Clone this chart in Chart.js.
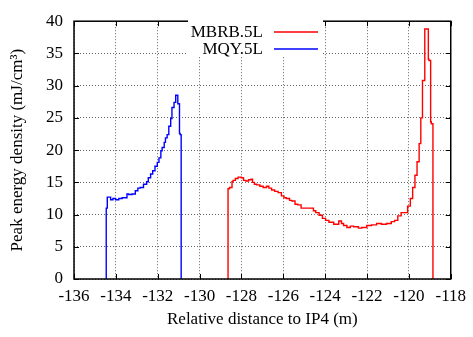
<!DOCTYPE html>
<html>
<head>
<meta charset="utf-8">
<script src="https://cdn.jsdelivr.net/npm/chart.js@4/dist/chart.umd.min.js"></script>
<style>
  html, body { margin: 0; padding: 0; background: #fff; }
  #wrap { width: 473px; height: 337px; }
</style>
</head>
<body>
<div id="wrap"><canvas id="myChart"></canvas></div>
<script>
// tick labels
var xTicks = [-136, -134, -132, -130, -128, -126, -124, -122, -120, -118];
var yTicks = [0, 5, 10, 15, 20, 25, 30, 35, 40];

// MBRB.5L (red)
var mbrbX = [-128.64, -128.64, -128.57, -128.45, -128.40, -128.29, -128.16, -128.01, -127.90, -127.79,
    -127.66, -127.54, -127.47, -127.38, -127.27, -127.12, -126.96, -126.80, -126.69, -126.56,
    -126.41, -126.25, -126.09, -125.97, -125.86, -125.70, -125.59, -125.44, -125.31, -125.15,
    -124.56, -124.45, -124.29, -124.13, -123.98, -123.82, -123.59, -123.35, -123.22, -123.12,
    -122.96, -122.80, -122.64, -122.41, -122.25, -122.01, -121.78, -121.54, -121.31, -121.07,
    -120.84, -120.68, -120.53, -120.37, -120.21, -120.06, -119.93, -119.82, -119.71, -119.61,
    -119.51, -119.43, -119.35, -119.24, -119.14, -119.07, -119.04, -118.96, -118.93, -118.85, -118.85];
var mbrbY = [0, 13.7, 14.0, 14.2, 15.1, 15.3, 15.6, 15.8, 15.7, 15.3,
    15.2, 15.4, 15.5, 15.0, 14.7, 14.6, 14.4, 14.2, 14.4, 14.1,
    13.8, 13.6, 13.4, 12.9, 12.6, 12.5, 12.2, 12.1, 11.6, 11.5,
    11.0, 10.6, 10.3, 9.9, 9.4, 9.1, 8.8, 8.5, 9.0, 8.6,
    8.3, 8.0, 8.2, 8.1, 7.9, 8.0, 8.3, 8.4, 8.6, 8.5,
    8.6, 8.9, 9.1, 9.8, 10.3, 10.3, 11.3, 12.5, 14.2, 16.1,
    18.2, 21.0, 25.0, 30.8, 38.8, 38.8, 34.1, 33.9, 24.4, 24.1, 0];

// MQY.5L (blue)
var mqyX = [-134.46, -134.46, -134.41, -134.33, -134.25, -134.14, -134.01, -133.86, -133.70, -133.47,
    -133.39, -133.23, -133.07, -132.95, -132.84, -132.68, -132.53, -132.45, -132.34, -132.24,
    -132.13, -132.02, -131.94, -131.85, -131.79, -131.69, -131.63, -131.55, -131.47, -131.38,
    -131.32, -131.22, -131.14, -131.12, -131.04, -131.00, -130.96, -130.93, -130.88, -130.88];
var mqyY = [0, 10.75, 11.0, 12.7, 12.7, 12.3, 12.5, 12.3, 12.5, 12.6,
    13.2, 13.1, 13.2, 13.7, 14.1, 14.2, 14.7, 15.1, 15.7, 16.3,
    16.8, 17.5, 18.1, 18.8, 19.9, 20.4, 21.2, 21.9, 22.4, 23.7,
    24.9, 26.6, 27.4, 28.5, 28.5, 27.2, 27.2, 22.6, 22.4, 0];

function toPoints(xs, ys) {
    return xs.map(function (x, i) { return { x: x, y: ys[i] }; });
}

var serif = "'Liberation Serif', 'DejaVu Serif', serif";

// frame, inward ticks and legend box like gnuplot
var framePlugin = {
    id: 'frame',
    afterDatasetsDraw: function (chart) {
        var ctx = chart.ctx;
        var a = chart.chartArea;
        var xs = chart.scales.x, ys = chart.scales.y;
        ctx.save();
        ctx.strokeStyle = '#000';
        ctx.lineWidth = 1;
        ctx.beginPath();
        xTicks.forEach(function (v) {
            var px = Math.round(xs.getPixelForValue(v)) + 0.5;
            ctx.moveTo(px, a.bottom); ctx.lineTo(px, a.bottom - 5);
            ctx.moveTo(px, a.top); ctx.lineTo(px, a.top + 5);
        });
        yTicks.forEach(function (v) {
            var py = Math.round(ys.getPixelForValue(v)) + 0.5;
            ctx.moveTo(a.left, py); ctx.lineTo(a.left + 5, py);
            ctx.moveTo(a.right, py); ctx.lineTo(a.right - 5, py);
        });
        ctx.stroke();
        ctx.lineWidth = 1.5;
        ctx.strokeRect(a.left, a.top, a.right - a.left, a.bottom - a.top);

        // legend
        ctx.fillStyle = '#fff';
        ctx.fillRect(188, 20, 135, 37);
        ctx.font = '17px ' + serif;
        ctx.textAlign = 'right';
        ctx.textBaseline = 'middle';
        chart.data.datasets.forEach(function (ds, i) {
            var y = 32 + i * 17;
            ctx.fillStyle = '#000';
            ctx.fillText(ds.label, 263, y + 1);
            ctx.strokeStyle = ds.borderColor;
            ctx.lineWidth = 1.4;
            ctx.beginPath();
            ctx.moveTo(274, y); ctx.lineTo(318, y);
            ctx.stroke();
        });
        ctx.restore();
    }
};

var ctx = document.getElementById('myChart').getContext('2d');

var gridOpts = {
    color: 'rgba(0,0,0,0.6)',
    lineWidth: 1,
    drawTicks: false,
    borderDash: [1, 2]
};

var myChart = new Chart(ctx, {
    type: 'line',
    data: {
        datasets: [{
            label: 'MBRB.5L',
            data: toPoints(mbrbX, mbrbY),
            borderColor: '#ff0000',
            borderWidth: 1.4,
            pointRadius: 0,
            stepped: 'after',
            fill: false
        }, {
            label: 'MQY.5L',
            data: toPoints(mqyX, mqyY),
            borderColor: '#0000ff',
            borderWidth: 1.4,
            pointRadius: 0,
            stepped: 'after',
            fill: false
        }]
    },
    options: {
        responsive: true,
        maintainAspectRatio: false,
        animation: false,
        layout: { padding: { left: 0, top: 10, right: 16, bottom: 0 } },
        plugins: {
            legend: { display: false },
            tooltip: { enabled: false }
        },
        scales: {
            x: {
                type: 'linear',
                min: -136,
                max: -118,
                afterBuildTicks: function (scale) {
                    scale.ticks = xTicks.map(function (v) { return { value: v }; });
                },
                afterFit: function (scale) { scale.height = 58; },
                grid: gridOpts,
                border: { display: false, dash: [1, 2] },
                ticks: {
                    padding: 7,
                    color: '#000',
                    font: { family: serif, size: 17 },
                    maxRotation: 0,
                    callback: function (v) { return v; }
                },
                title: {
                    display: true,
                    text: 'Relative distance to IP4 (m)',
                    color: '#000',
                    font: { family: serif, size: 17 },
                    padding: { top: 0, bottom: 7 }
                }
            },
            y: {
                min: 0,
                max: 40,
                afterBuildTicks: function (scale) {
                    scale.ticks = yTicks.map(function (v) { return { value: v }; });
                },
                afterFit: function (scale) { scale.width = 74; },
                grid: gridOpts,
                border: { display: false, dash: [1, 2] },
                ticks: {
                    padding: 11,
                    color: '#000',
                    font: { family: serif, size: 17 }
                },
                title: {
                    display: true,
                    text: 'Peak energy density (mJ/cm³)',
                    color: '#000',
                    font: { family: serif, size: 17 },
                    padding: { top: 7, bottom: 0 }
                }
            }
        }
    },
    plugins: [framePlugin]
});
</script>
</body>
</html>
